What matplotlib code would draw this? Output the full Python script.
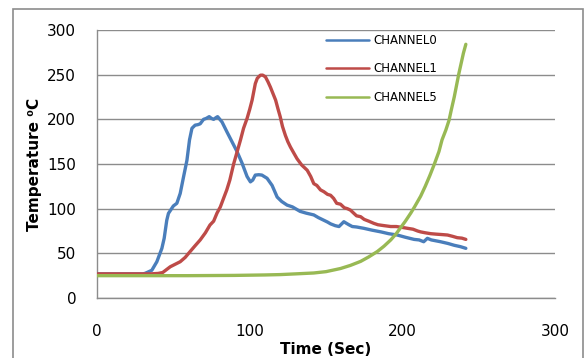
import matplotlib
matplotlib.use("Agg")
import matplotlib.pyplot as plt
from matplotlib.patches import Rectangle

# ---- data ----
ch0_x = [0, 10, 20, 30, 31.5, 35.9, 39.2, 42.5, 44, 45.7, 46.8, 50, 52.3, 54.5, 56.7, 58.9,
         60.6, 62.2, 64.3, 66, 67.6, 69.8, 71.5, 73.5, 75, 76.4, 78, 79, 81.9, 85.1, 88.4,
         91.7, 95, 98.3, 100.5, 102, 103.7, 106, 108, 111.4, 114.7, 118, 121, 124.5, 128,
         130, 133, 137, 142, 145, 148.6, 151, 153, 156, 158.5, 161.7, 163, 165, 167.2, 170,
         174.8, 180, 186, 191, 196.7, 202, 207.7, 211, 214, 216.4, 219, 225, 230, 234, 238,
         241.6]
ch0_y = [27, 27, 27, 27, 27.6, 31, 40.6, 55.6, 66.8, 87, 94.7, 103, 106, 117, 135.7, 154,
         177, 190, 193.5, 194, 195, 200, 201, 203, 201, 200, 202, 203, 197, 186, 175,
         164, 151, 136, 130, 132, 137.6, 138, 137.6, 134, 126, 113, 108, 104, 102,
         100, 97, 95, 93, 90, 87, 85, 83, 81, 80, 85.4, 84, 82, 80, 79.5,
         78, 76, 74, 72, 70.5, 68, 65.6, 65, 63, 66.8, 65, 63, 61, 59, 57.5,
         55.6]

ch1_x = [0, 20, 35, 40, 43, 48, 54.5, 57.8, 61, 64, 67.6, 71, 74, 76.4, 78.6, 80.8, 83, 85,
         87, 89.5, 92, 94, 96, 98.3, 100, 101.6, 103.7, 105, 107, 108.5, 110.3, 112, 113.6,
         115, 117, 118.5, 120, 121.5, 123.4, 125, 126.7, 129, 131, 134, 137.7, 140, 142,
         144, 146.4, 148.6, 151, 153, 155, 157, 159.5, 162, 164, 166, 168.3, 170, 172.7,
         175, 178, 181.4, 184, 188, 192.4, 196, 200, 203.4, 207, 210, 212, 215, 218.6, 222,
         226, 229.6, 233, 236, 239, 241.6]
ch1_y = [27, 27, 27, 27.5, 28.5, 35, 40.6, 45.5, 52, 58, 65, 73, 81.7, 86, 95, 102, 112, 121,
         132, 150, 165, 177, 190, 201, 211, 221.5, 240, 246, 249.4, 249.5, 247.6, 242, 236,
         230, 221.5, 212, 203, 192, 182, 175, 169, 162, 156, 149, 143, 136, 128,
         126, 121, 119, 116, 115, 111.5, 106, 105, 101, 100, 98.4, 94.7, 92, 91,
         88, 86, 83.5, 82, 81, 80, 80, 79, 78, 77, 75, 74, 73, 72, 71.5,
         71, 70.5, 69, 67.5, 67, 65.6]

ch5_x = [0, 30, 60, 90, 110, 120, 130, 142, 150, 159.5, 166, 172.7, 178, 183.6, 188, 192.4,
         196, 199, 202, 205.5, 208, 210, 212, 215, 218, 221, 224, 226, 228.5, 230.6, 232,
         234, 237, 240, 241.6]
ch5_y = [25, 25, 25, 25.3, 25.8, 26.2, 27, 28, 29.5, 33, 36.5, 41, 46, 52, 58, 65,
         72, 79, 86, 95, 102, 108, 114, 125, 137, 150, 164, 177, 188, 199, 210,
         225, 251, 274, 284]

series_labels = ["CHANNEL0", "CHANNEL1", "CHANNEL5"]
series_colors = ["#4A7EBB", "#BE4B48", "#98B954"]
x_ticks = [0, 100, 200, 300]
y_ticks = [0, 50, 100, 150, 200, 250, 300]

W, H = 587, 358
fig = plt.figure(figsize=(W / 100, H / 100), dpi=100)
fig.patch.set_facecolor("white")

# outer chart-area border
fig.patches.append(Rectangle((13 / W, -0.05), (583 - 13) / W, 1.05 - 9 / H,
                             transform=fig.transFigure, fill=False,
                             edgecolor="#8C8C8C", linewidth=1.2, zorder=0))

ax = fig.add_axes([97 / W, 1 - 298 / H, (555 - 97) / W, (298 - 30) / H])

grid_c = "#8C8C8C"
for xs, ys, lab, col in zip([ch0_x, ch1_x, ch5_x], [ch0_y, ch1_y, ch5_y],
                            series_labels, series_colors):
    ax.plot(xs, ys, color=col, linewidth=2.4, label=lab, solid_capstyle="round",
            solid_joinstyle="round", zorder=3)

ax.set_xlim(0, 300)
ax.set_ylim(0, 300)
ax.set_xticks(x_ticks)
ax.set_yticks(y_ticks)
ax.yaxis.grid(True, color=grid_c, linewidth=1.0)
ax.set_axisbelow(True)
for s in ["top", "right"]:
    ax.spines[s].set_visible(False)
for s in ["left", "bottom"]:
    ax.spines[s].set_color(grid_c)
    ax.spines[s].set_linewidth(1.0)
ax.tick_params(axis="both", length=0, labelsize=11, colors="#000000")
ax.tick_params(axis="y", pad=15)
ax.tick_params(axis="x", pad=19)

ax.set_xlabel("Time (Sec)", fontsize=11, fontweight="bold", labelpad=2)
ax.set_ylabel("Temperature \u2070C", fontsize=11, fontweight="bold", labelpad=4)

leg = ax.legend(loc="upper left", bbox_to_anchor=(0.50, 0.985), frameon=False,
                fontsize=8.5, handlelength=3.6, handletextpad=0.4,
                labelspacing=1.3, borderpad=0, borderaxespad=0)
for ln in leg.get_lines():
    ln.set_linewidth(1.8)

fig.savefig("out.png", dpi=100)
